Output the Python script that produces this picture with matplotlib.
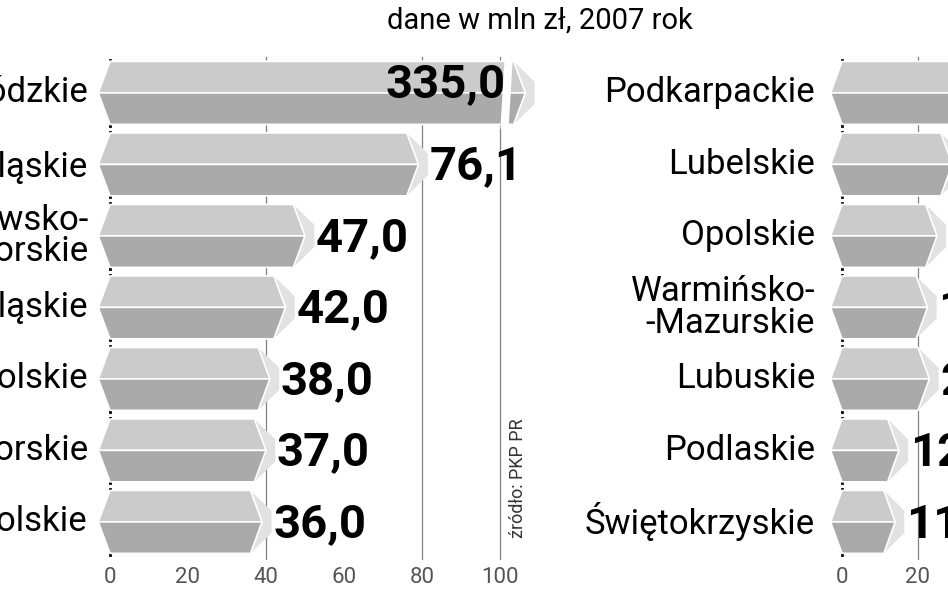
import matplotlib
matplotlib.use("Agg")
import matplotlib.pyplot as plt
from matplotlib.patches import Polygon

left_regions = ["Łódzkie", "Śląskie", "Kujawsko-\nPomorskie", "Dolnośląskie", "Małopolskie", "Pomorskie", "Wielkopolskie"]
left_values = [335.0, 76.1, 47.0, 42.0, 38.0, 37.0, 36.0]
left_labels = ["335,0", "76,1", "47,0", "42,0", "38,0", "37,0", "36,0"]
right_regions = ["Podkarpackie", "Lubelskie", "Opolskie", "Warmińsko-\n-Mazurskie", "Lubuskie", "Podlaskie", "Świętokrzyskie"]
right_values = [33.0, 26.0, 22.0, 19.5, 20.0, 12.0, 11.0]
right_labels = ["33,0", "26,0", "22,0", "19,5", "20,0", "12,0", "11,0"]
ticks = [0, 20, 40, 60, 80, 100]
left_grid = [40, 80, 100]
right_grid = [20]

W, H = 948, 593
fig = plt.figure(figsize=(W/100, H/100), dpi=100)
FONT = "Roboto"

def make_ax(x0, x1, zero_px, ppu):
    ax = fig.add_axes([x0/W, 1-560/H, (x1-x0)/W, 505/H])
    xmin = -(zero_px-x0)/ppu
    ax.set_xlim(xmin, xmin+(x1-x0)/ppu)
    ax.set_ylim(-0.53+505/71.5, -0.53)
    ax.axis("off")
    ax.patch.set_alpha(0)
    return ax

def bar(ax, y, v, d=3.0, h=0.44, tip=True):
    ax.add_patch(Polygon([(0, y-h), (v, y-h), (v+d, y), (-d, y)], closed=True, fc="#cbcbcb", ec="white", lw=1.2, zorder=3))
    ax.add_patch(Polygon([(-d, y), (v+d, y), (v, y+h), (0, y+h)], closed=True, fc="#aaaaaa", ec="white", lw=1.2, zorder=3))
    if tip:
        ax.add_patch(Polygon([(v, y-h), (v+1.8*d, y-h*0.35), (v+1.8*d, y+h*0.35), (v, y+h), (v+d, y)], closed=True, fc="#e2e2e2", ec="none", zorder=2))

def panel(ax, regions, values, labels, maxv, label_px_x, ppu, zero_px, grid, tickmax):
    for g in grid:
        ax.plot([g, g], [-0.5, 6.55], color="#808080", lw=0.9, zorder=1)
    for i in range(7):
        ax.plot([0, 0], [i-0.46, i+0.46], color="black", lw=2, zorder=2)
    for i, (r, v, l) in enumerate(zip(regions, values, labels)):
        if v > maxv:
            bar(ax, i, maxv-1.5, tip=False)
            bar(ax, i, maxv+3.5, tip=True)
            ax.text(maxv+1.5, i-0.12, l, ha="right", va="center", fontsize=34, fontweight="bold", family=FONT, zorder=5)
        else:
            bar(ax, i, v)
            ax.text(v+5.8, i+0.03, l, ha="left", va="center", fontsize=34, fontweight="bold", family=FONT, zorder=5)
        ax.text(-(zero_px-label_px_x)/ppu, i, r, ha="right", va="center", fontsize=25, family=FONT, linespacing=0.95, clip_on=False)
    for t in ticks:
        if t <= tickmax:
            ax.text(t, 6.78, str(t), ha="center", va="center", fontsize=16, color="#555555", family=FONT)

axl = make_ax(95, 560, 110, 3.9)
panel(axl, left_regions, left_values, left_labels, 100, 88, 3.9, 110, left_grid, 100)
axl.add_patch(Polygon([(101.2, -0.5), (103.3, -0.5), (102.2, 0.5), (100.1, 0.5)], closed=True, fc="white", ec="none", zorder=4))

axr = make_ax(830, 948, 842, 3.8)
panel(axr, right_regions, right_values, right_labels, 1000, 815, 3.8, 842, right_grid, 20)

fig.text(540/W, 1-21/H, "dane w mln zł, 2007 rok", ha="center", va="center", fontsize=21, family=FONT)
fig.text(518/W, 1-478/H, "źródło: PKP PR", rotation=90, ha="center", va="center", fontsize=13, family=FONT, color="#333333")

fig.savefig("out.png", dpi=100, facecolor="white")
